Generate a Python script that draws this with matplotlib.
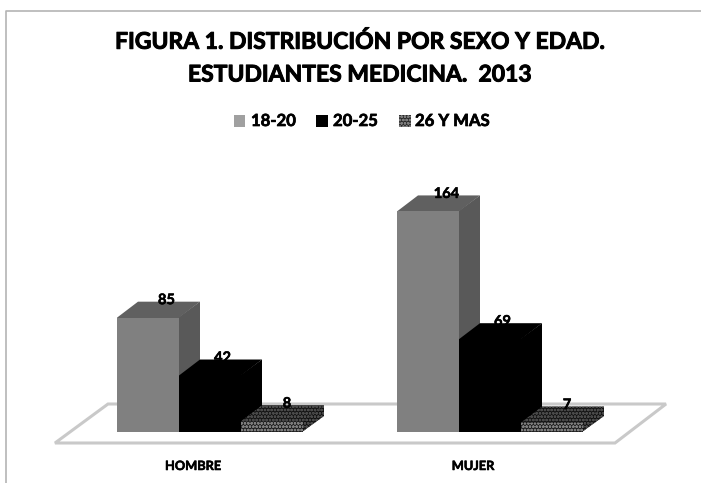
import matplotlib
matplotlib.use("Agg")
import matplotlib.pyplot as plt
import matplotlib.patheffects as pe
from matplotlib.patches import Polygon, Rectangle
from matplotlib.lines import Line2D

categories = ["HOMBRE", "MUJER"]
series_names = ["18-20", "20-25", "26 Y MAS"]
v_18_20 = [85, 164]
v_20_25 = [42, 69]
v_26_mas = [8, 7]
series_values = [v_18_20, v_20_25, v_26_mas]
title_lines = ["FIGURA 1. DISTRIBUCIÓN POR SEXO Y EDAD.", "ESTUDIANTES MEDICINA.  2013"]

W, H = 701, 483
plt.rcParams["font.family"] = ["Lato", "DejaVu Sans"]
plt.rcParams["font.weight"] = "bold"
plt.rcParams["hatch.linewidth"] = 0.8

fig = plt.figure(figsize=(W / 100, H / 100), dpi=100, facecolor="white")
ax = fig.add_axes([0, 0, 1, 1])
ax.axis("off")

# scale: pixels per unit
PX_CAT, PX_VAL = 280.0, 1.345
X0_PX, Y0_PX = 210.0, 432.0
ax.set_xlim(-X0_PX / PX_CAT, (W - X0_PX) / PX_CAT)
ax.set_ylim(-(H - Y0_PX) / PX_VAL, Y0_PX / PX_VAL)


def px(x, y):
    return ((x - X0_PX) / PX_CAT, (Y0_PX - y) / PX_VAL)


def bold(width):
    return [pe.withStroke(linewidth=width, foreground="black")]


bar_w = 62.0 / PX_CAT
dx = 21.0 / PX_CAT
dy = 16.0 / PX_VAL
overlap = 2.0 / PX_VAL

# frame
fig.add_artist(Line2D([6 / W, 6 / W, 1], [0, 1 - 11 / H, 1 - 11 / H],
                      color="#b4b4b4", lw=1.2, transform=fig.transFigure))

# floor
ax.add_patch(Polygon([px(55, 443), px(108, 404), px(666, 404), px(615, 443)],
                     closed=True, facecolor="white", edgecolor="#c9c9c9", lw=2.2, zorder=1))

front = ["#808080", "#000000", "#1e1e1e"]
top = ["#606060", "#000000", "#141414"]
side = ["#595959", "#000000", "#101010"]
hatch = [None, None, "ooooo"]
hatch_ec = [None, None, "#7d7d7d"]
hatch_top_ec = [None, None, "#4a4a4a"]
label_off = [18.5, 12.5, 15.0]

z = 2
for s, vals in enumerate(series_values):
    off = (s - 1) * bar_w
    for c, v in enumerate(vals):
        x = c + off
        l, r = x - bar_w / 2, x + bar_w / 2
        if hatch[s]:
            fkw = {"hatch": hatch[s], "edgecolor": hatch_top_ec[s], "lw": 0}
        else:
            fkw = {"edgecolor": "none", "lw": 0}
        ax.add_patch(Polygon([(r - 1 / PX_CAT, 0), (r + dx, dy), (r + dx, v + dy), (r - 1 / PX_CAT, v)],
                             facecolor=side[s], zorder=z, **fkw))
        ax.add_patch(Polygon([(l, v - overlap), (l, v), (l + dx, v + dy), (r + dx, v + dy), (r, v), (r, v - overlap)],
                             facecolor=top[s], zorder=z, **fkw))
        kw = ({"hatch": hatch[s], "edgecolor": hatch_ec[s], "lw": 0} if hatch[s]
              else {"edgecolor": "none", "lw": 0})
        ax.bar(x, v, bar_w, color=front[s], zorder=z + 0.1, **kw)
        ax.text(x + label_off[s] / PX_CAT, v + dy + 1.5 / PX_VAL, str(v), ha="center", va="center",
                fontsize=10.5, color="black", zorder=20, path_effects=bold(0.4))
    z += 1

# category labels
for c, name in enumerate(categories):
    ax.text(c - 17 / PX_CAT, px(0, 466)[1], name, ha="center", va="center",
            fontsize=9.2, color="black", zorder=20, path_effects=bold(0.4))

# title
for line, ypx in zip(title_lines, (42, 75)):
    ax.text(*px(360, ypx), line, ha="center", va="center", fontsize=16.5, color="black",
            zorder=20, path_effects=bold(0.7))

# legend
leg_sq = [234, 316, 399]
leg_tx = [251, 333, 415]
leg_c = ["#a0a0a0", "#000000", "#2a2a2a"]
for i, name in enumerate(series_names):
    x0, y0 = px(leg_sq[i], 127)
    ax.add_patch(Rectangle((x0, y0), 11.5 / PX_CAT, 11.5 / PX_VAL, facecolor=leg_c[i],
                           hatch=hatch[i], edgecolor=hatch_ec[i] if hatch[i] else "none",
                           lw=0, zorder=20))
    ax.text(*px(leg_tx[i], 121), name, ha="left", va="center", fontsize=12,
            color="black", zorder=20, path_effects=bold(0.5))

fig.savefig("out.png", dpi=100, facecolor="white")
